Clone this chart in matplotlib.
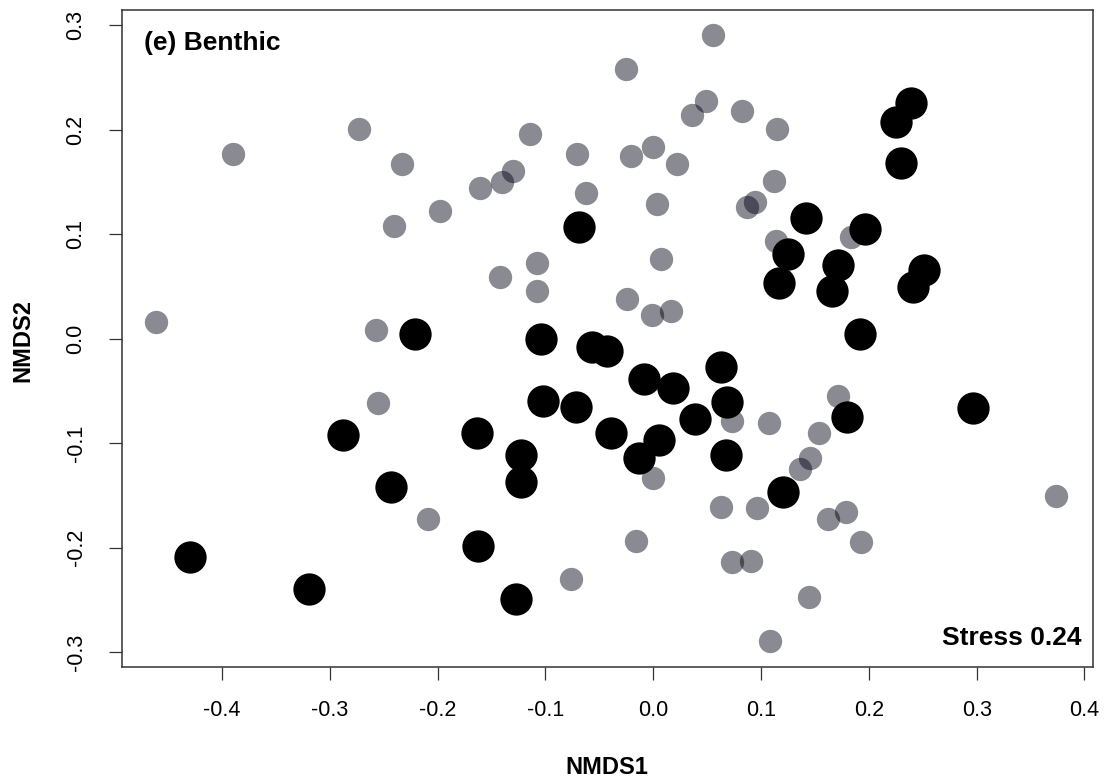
# NMDS ordination, benthic panel (e)
import numpy as np
import matplotlib
matplotlib.use("Agg")
import matplotlib.pyplot as plt

plt.rcParams['font.family'] = ['Liberation Sans', 'DejaVu Sans']

# grey group (semi transparent points)
grey_x = [-0.461, -0.390, -0.273, -0.257, 0.055, -0.025, 0.049, 0.036, 0.082,
          -0.114, -0.233, -0.071, -0.021, 0.000, 0.022, -0.130, -0.140, -0.161,
          -0.062, -0.198, -0.241, 0.003, 0.007, -0.108, -0.142, -0.108, -0.024,
          -0.001, 0.016, 0.115, 0.112, 0.094, 0.087, 0.114, 0.183, -0.255,
          0.073, 0.000, -0.209, -0.076, -0.016, 0.063, 0.073, 0.171, 0.107,
          0.154, 0.145, 0.136, 0.374, 0.096, 0.162, 0.179, 0.193, 0.091,
          0.144, 0.108]
grey_y = [0.016, 0.177, 0.201, 0.008, 0.291, 0.258, 0.227, 0.214, 0.218,
          0.196, 0.167, 0.177, 0.175, 0.183, 0.167, 0.160, 0.150, 0.144,
          0.139, 0.122, 0.108, 0.129, 0.076, 0.072, 0.059, 0.046, 0.038,
          0.023, 0.026, 0.201, 0.151, 0.131, 0.126, 0.093, 0.097, -0.062,
          -0.079, -0.133, -0.173, -0.230, -0.194, -0.161, -0.214, -0.055, -0.081,
          -0.090, -0.114, -0.125, -0.151, -0.162, -0.173, -0.166, -0.195, -0.213,
          -0.247, -0.289]

# black group
black_x = [-0.069, -0.221, -0.104, -0.057, -0.043, 0.239, 0.225, 0.230, 0.142,
           0.125, 0.117, 0.196, 0.171, 0.166, 0.251, 0.241, 0.192, -0.288,
           -0.430, -0.319, 0.063, -0.009, 0.018, 0.068, -0.102, -0.072, 0.039,
           -0.039, 0.005, -0.013, 0.067, -0.164, -0.123, -0.123, -0.243, -0.163,
           -0.127, 0.180, 0.297, 0.120]
black_y = [0.107, 0.004, 0.000, -0.008, -0.012, 0.225, 0.207, 0.168, 0.115,
           0.081, 0.053, 0.105, 0.070, 0.046, 0.066, 0.049, 0.004, -0.092,
           -0.209, -0.240, -0.027, -0.039, -0.047, -0.061, -0.060, -0.065, -0.077,
           -0.090, -0.097, -0.114, -0.111, -0.090, -0.111, -0.137, -0.142, -0.198,
           -0.249, -0.075, -0.066, -0.147]

x_ticks = [-0.4, -0.3, -0.2, -0.1, 0.0, 0.1, 0.2, 0.3, 0.4]
y_ticks = [-0.3, -0.2, -0.1, 0.0, 0.1, 0.2, 0.3]

fig = plt.figure(figsize=(11.04, 7.83), dpi=100)
ax = fig.add_axes([0.1105, 0.1481, 0.8795, 0.8385])

ax.scatter(grey_x, grey_y, s=282, color='#000014', alpha=0.46, linewidths=0)
ax.scatter(black_x, black_y, s=541, color='black', linewidths=0)

ax.set_xlim(-0.4929, 0.4079)
ax.set_ylim(-0.3143, 0.3140)
ax.set_xticks(x_ticks)
ax.set_yticks(y_ticks)
ax.set_xticklabels(["%.1f" % v for v in x_ticks])
ax.set_yticklabels(["%.1f" % v for v in y_ticks], rotation=90, va='center')
ax.tick_params(direction='out', length=9.5, width=0.9, color='#333333',
               labelsize=15.5, pad=14)
ax.tick_params(axis='y', pad=16)

for sp in ax.spines.values():
    sp.set_linewidth(1.1)
    sp.set_color('#333333')

ax.text(0.023, 0.951, "(e) Benthic", transform=ax.transAxes, fontsize=19,
        fontweight='bold', ha='left', va='center')
ax.text(0.988, 0.044, "Stress 0.24", transform=ax.transAxes, fontsize=19,
        fontweight='bold', ha='right', va='center')

fig.text(607 / 1104, 1 - 768 / 783, "NMDS1", fontsize=17, fontweight='bold',
         ha='center', va='center')
fig.text(23 / 1104, 1 - 340 / 783, "NMDS2", fontsize=17, fontweight='bold',
         ha='center', va='center', rotation=90)

fig.savefig("out.png", dpi=100)
